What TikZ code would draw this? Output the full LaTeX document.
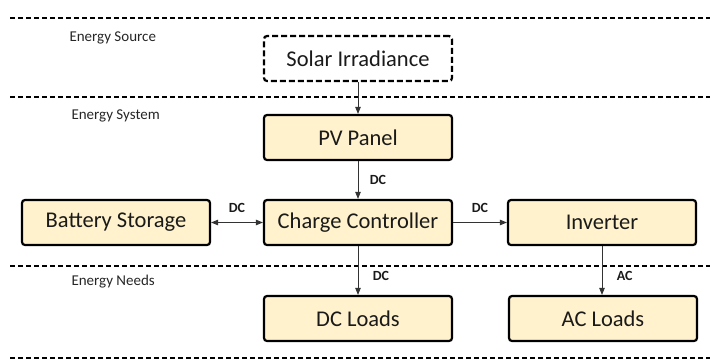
\documentclass[tikz,border=0pt]{standalone}
\usepackage{fontspec}
\setmainfont{Carlito}
\usetikzlibrary{arrows.meta}
\definecolor{boxfill}{HTML}{FFF2CC}
\definecolor{linkgray}{HTML}{333333}
\definecolor{inkdark}{HTML}{1A1A1A}
\tikzset{
  block/.style={draw=black, line width=2.2pt, rounded corners=3pt, fill=boxfill,
    minimum width=188pt, minimum height=45pt, inner sep=0pt, text=inkdark,
    font=\fontsize{22.5}{26}\selectfont},
  srcblock/.style={block, fill=white, dash pattern=on 6pt off 3pt},
  divider/.style={line width=1.2pt, dash pattern=on 5pt off 3pt},
  zone/.style={anchor=west, font=\fontsize{15}{18}\selectfont, text=black!85},
  link/.style={draw=linkgray, line width=0.9pt, -{Triangle[length=7pt,width=5.5pt]}},
  blink/.style={draw=linkgray, line width=0.9pt, {Triangle[length=7pt,width=5.5pt]}-{Triangle[length=7pt,width=5.5pt]}},
  tag/.style={font=\bfseries\fontsize{14}{16}\selectfont, text=inkdark}
}
\begin{document}
\begin{tikzpicture}[x=1pt,y=-1pt]
\useasboundingbox (0,0) rectangle (710,360);

% zone dividers
\coordinate (d1a) at (10,18);  \coordinate (d1b) at (710,18);
\coordinate (d2a) at (10,97);  \coordinate (d2b) at (710,97);
\coordinate (d3a) at (10,266); \coordinate (d3b) at (710,266);
\coordinate (d4a) at (10,358); \coordinate (d4b) at (710,358);
\draw[divider] (d1a) -- (d1b);
\draw[divider] (d2a) -- (d2b);
\draw[divider] (d3a) -- (d3b);
\draw[divider] (d4a) -- (d4b);

% zone titles
\node[zone] (zsrc) at (66,38) {Energy Source};
\node[zone] (zsys) at (68,116) {Energy System};
\node[zone] (zneed) at (68,282) {Energy Needs};

% blocks
\node[srcblock] (sun) at (358,58.5) {Solar Irradiance};
\node[block] (pv) at (358,137.5) {PV Panel};
\node[block] (bat) at (116,222.5) {Battery Storage};
\node[block] (cc) at (358,222.5) {Charge Controller};
\node[block] (inv) at (602,222.5) {Inverter};
\node[block] (dcl) at (358,318.5) {DC Loads};
\node[block] (acl) at (603,318.5) {AC Loads};

% connectors
\draw[link] (sun) -- (pv);
\draw[link] (pv) -- node[tag, right=8pt] (t1) {DC} (cc);
\draw[blink] (bat) -- node[tag, above=6pt] (t2) {DC} (cc);
\draw[link] (cc) -- node[tag, above=6pt] (t3) {DC} (inv);
\draw[link] (cc) -- node[tag, pos=0.62, right=11pt] (t4) {DC} (dcl);
\draw[link] (inv.south) -- node[tag, pos=0.62, right=11pt] (t5) {AC} (inv.south |- acl.north);
\end{tikzpicture}
\end{document}
